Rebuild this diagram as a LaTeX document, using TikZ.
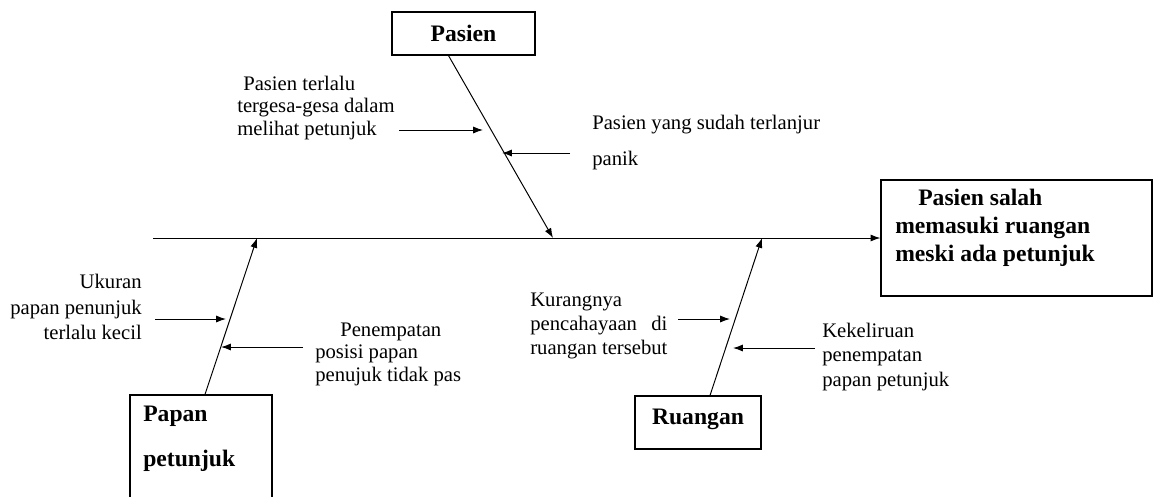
\documentclass[tikz,border=0pt]{standalone}
\usepackage{fontspec}
\setmainfont{Liberation Serif}
\usepackage{tikz}
\usetikzlibrary{arrows.meta}
\newcommand{\causefont}{\fontsize{14.7}{17}\selectfont}
\newcommand{\headfont}{\fontsize{16.8}{20}\selectfont\bfseries}

\begin{document}
\begin{tikzpicture}[
  x=0.025cm, y=-0.025cm, >={Latex[length=7pt,width=5pt]},
  box/.style={draw, line width=0.8pt, inner sep=0pt, font=\headfont},
  head/.style={font=\headfont, inner sep=0pt, align=left},
  cause/.style={font=\causefont, inner sep=0pt, align=left},
  bone/.style={->, line width=0.7pt}
]
  \clip (0,0) rectangle (1157,496);
  % boxes
  \node[box, minimum width=6.775cm, minimum height=2.9cm] (effect) at (1016.5,238) {};
  \node[head, anchor=west] (efftext) at (895,228) {\hspace*{0.575cm}Pasien salah\\memasuki ruangan\\meski ada petunjuk};
  \node[box, minimum width=3.575cm, minimum height=1.075cm] (pasien) at (463.5,33.5) {Pasien};
  \node[box, minimum width=3.15cm, minimum height=1.325cm, text height=8pt, text depth=5.5pt] (ruangan) at (698,422.5) {Ruangan};
  \node[box, minimum width=3.55cm, minimum height=3.125cm] (papan) at (201,457.5) {};
  \node[head, anchor=west] (papantext) at (143,439) {Papan\\[12pt]petunjuk};
  % spine
  \coordinate (tail) at (153,238);
  \coordinate (spA) at (553,238);
  \coordinate (spB) at (257,238);
  \coordinate (spC) at (762,238);
  \draw[bone] (tail) -- (tail -| effect.west);
  \draw[bone] ([xshift=-0.375cm]pasien.south) -- (spA);
  \draw[bone] ([xshift=0.1cm]papan.north) -- (spB);
  \draw[bone] ([xshift=0.3cm]ruangan.north) -- (spC);
  % causes
  \node[cause, anchor=west, font=\fontsize{14.7}{16}\selectfont] (c1) at (237,108) {\hspace*{0.15cm}Pasien terlalu\\tergesa-gesa dalam\\melihat petunjuk};
  \node[cause, anchor=west] (c2) at (592,142.5) {Pasien yang sudah terlanjur\\[8pt]panik};
  \node[cause, anchor=east, align=right, font=\fontsize{14.7}{18}\selectfont] (c3) at (142,307) {Ukuran\\papan penunjuk\\terlalu kecil};
  \node[cause, anchor=west, font=\fontsize{14.7}{16}\selectfont] (c4) at (315,354) {\hspace*{0.625cm}Penempatan\\posisi papan\\penujuk tidak pas};
  \node[cause, anchor=west] (c5) at (530,326) {Kurangnya\\pencahayaan\hspace{0.695em}di\\ruangan tersebut};
  \node[cause, anchor=west, font=\fontsize{14.7}{17.5}\selectfont] (c6) at (822,357) {Kekeliruan\\penempatan\\papan petunjuk};
  \coordinate (a1s) at (399,130); \coordinate (a1e) at (483,130);
  \coordinate (a2s) at (570,153); \coordinate (a2e) at (502,153);
  \coordinate (a3s) at (155,319); \coordinate (a3e) at (226,319);
  \coordinate (a4s) at (303,347); \coordinate (a4e) at (221,347);
  \coordinate (a5s) at (678,319); \coordinate (a5e) at (730,319);
  \coordinate (a6s) at (815,348); \coordinate (a6e) at (733,348);
  \foreach \i in {1,...,6}
    \draw[bone] (a\i s) -- (a\i e);
\end{tikzpicture}
\end{document}
